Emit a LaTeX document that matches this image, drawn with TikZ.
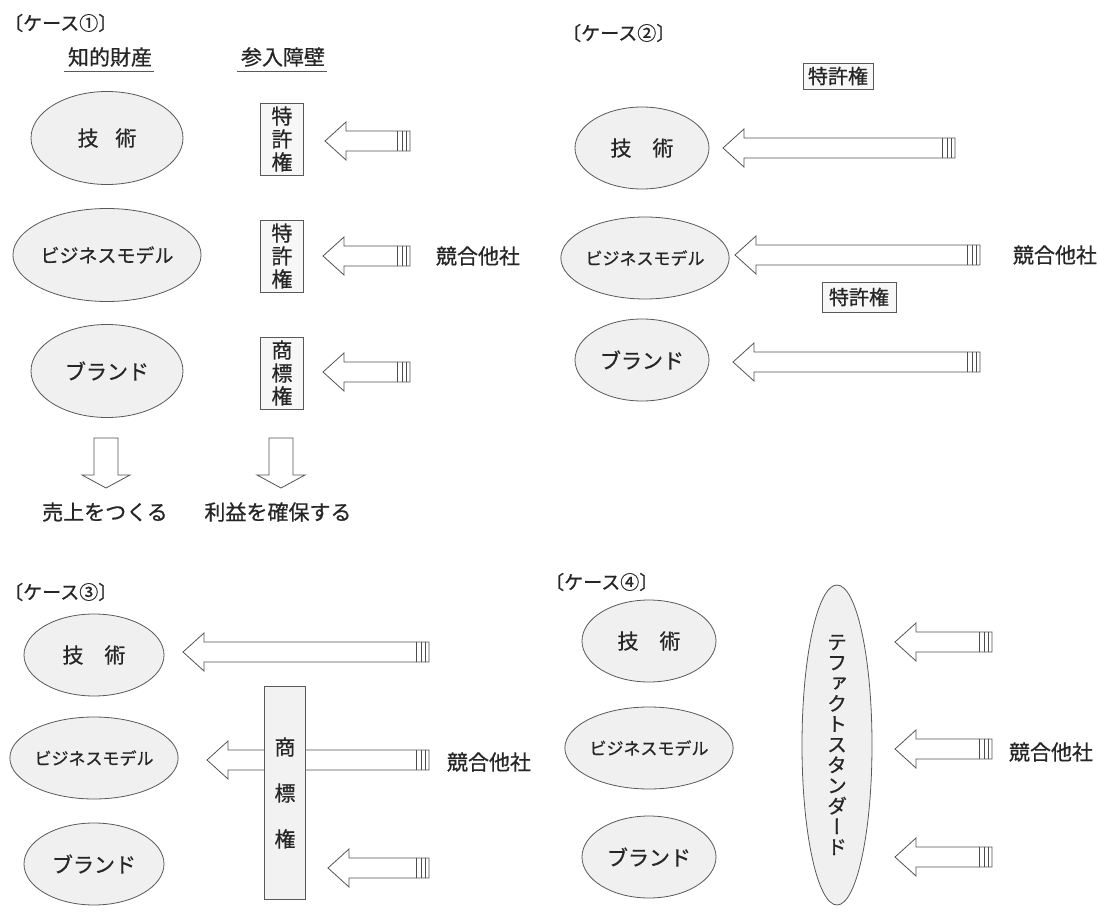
\documentclass[tikz,border=0pt]{standalone}
\usepackage{fontspec}
\setmainfont{Noto Sans CJK JP}[FakeBold=0.7]
\newfontfamily\vertfont[RawFeature=+vert, FakeBold=0.7]{Noto Sans CJK JP}
\usetikzlibrary{shapes.geometric,calc}

\tikzset{
  asset/.style={draw=gray!70!black, line width=0.8pt, fill=gray!12, ellipse, inner sep=0pt, text=black!85},
  ellA/.style={asset, minimum width=152pt, minimum height=93pt},
  ellB/.style={asset, minimum width=134pt, minimum height=82pt},
  barrier/.style={draw=gray!70!black, line width=0.8pt, fill=gray!6, inner sep=0pt, align=center, text=black!85},
  hollow/.style={draw=gray!65!black, line width=0.8pt, fill=white, line join=miter},
  stripe/.style={draw=gray!60!black, line width=0.7pt},
  headline/.style={draw=gray!70!black, line width=0.8pt},
  title/.style={font=\fontsize{19}{22}\selectfont, inner sep=0pt, anchor=west, text=black!85},
  label/.style={font=\fontsize{21}{24}\selectfont, inner sep=0pt, text=black!85},
  big/.style={font=\fontsize{21}{24}\selectfont},
  small/.style={font=\fontsize{17}{20}\selectfont},
}

% hollow block arrow pointing left: #1 tail, #2 tip
\newcommand{\hollowarrow}[2]{%
  \draw[hollow] let \p1=(#1), \p2=(#2) in
    (\p2) -- (\x2+21pt,\y2+19pt) -- (\x2+21pt,\y2+10pt) -- (\x1,\y1+10pt)
    -- (\x1,\y1-10pt) -- (\x2+21pt,\y2-10pt) -- (\x2+21pt,\y2-19pt) -- cycle;
  \draw[stripe] let \p1=(#1) in
    (\x1-4pt,\y1-10pt) -- (\x1-4pt,\y1+10pt)
    (\x1-8pt,\y1-10pt) -- (\x1-8pt,\y1+10pt)
    (\x1-13pt,\y1-10pt) -- (\x1-13pt,\y1+10pt);
}
% hollow block arrow pointing down: #1 top, #2 tip
\newcommand{\hollowdown}[2]{%
  \draw[hollow] let \p1=(#1), \p2=(#2) in
    (\p2) -- (\x2-24pt,\y2+13pt) -- (\x2-12pt,\y2+13pt) -- (\x1-12pt,\y1)
    -- (\x1+12pt,\y1) -- (\x2+12pt,\y2+13pt) -- (\x2+24pt,\y2+13pt) -- cycle;
}

\begin{document}
\begin{tikzpicture}[x=1pt, y=-1pt]
    \fill[white] (0,0) rectangle (1098,912);
    \useasboundingbox (0,0) rectangle (1098,912);

    % Case 1
    \node[title] (t1) at (4,23) {〔ケース①〕};
    \node[label] (ip) at (110,57) {知的財産};
    \node[label] (eb) at (283,57) {参入障壁};
    \draw[headline] ([shift={(-4pt,-4pt)}]ip.south west) -- ([shift={(2pt,-4pt)}]ip.south east);
    \draw[headline] ([shift={(-4pt,-4pt)}]eb.south west) -- ([shift={(2pt,-4pt)}]eb.south east);

    \node[ellA, big] (c1tech) at (107,138) {技\hspace{0.8em}術};
    \node[ellA, font=\fontsize{19}{22}\selectfont] (c1biz) at (107,255) {ビジネスモデル};
    \node[ellA, big] (c1brand) at (107,371) {ブランド};

    \node[barrier, font=\fontsize{21}{23}\selectfont, minimum width=43pt, minimum height=72pt] (c1pat1) at (282,139) {特\\許\\権};
    \node[barrier, font=\fontsize{21}{23}\selectfont, minimum width=43pt, minimum height=72pt] (c1pat2) at (282,256) {特\\許\\権};
    \node[barrier, font=\fontsize{21}{23}\selectfont, minimum width=43pt, minimum height=72pt] (c1tm) at (282,373) {商\\標\\権};

    \coordinate (c1a1t) at (410,141); \coordinate (c1a1h) at (325,141);
    \coordinate (c1a2t) at (410,256); \coordinate (c1a2h) at (323,256);
    \coordinate (c1a3t) at (410,372); \coordinate (c1a3h) at (323,372);
    \hollowarrow{c1a1t}{c1a1h}
    \hollowarrow{c1a2t}{c1a2h}
    \hollowarrow{c1a3t}{c1a3h}
    \node[label] (rival1) at (478,256) {競合他社};

    \coordinate (d1top) at (106,438); \coordinate (d1tip) at (106,488);
    \coordinate (d2top) at (281,438); \coordinate (d2tip) at (281,488);
    \hollowdown{d1top}{d1tip}
    \hollowdown{d2top}{d2tip}
    \node[label] (sales) at (105,512) {売上をつくる};
    \node[label] (profit) at (278,512) {利益を確保する};

    % Case 2
    \node[title] (t2) at (562,33) {〔ケース②〕};
    \node[barrier, font=\fontsize{20}{22}\selectfont, minimum width=70pt, minimum height=26pt] (c2pat1) at (838,76) {特許権};
    \node[ellB, big] (c2tech) at (642,148) {技\hspace{1em}術};
    \node[ellB, small] (c2biz) at (645,258) {ビジネスモデル};
    \node[ellB, big] (c2brand) at (642,360) {ブランド};
    \node[barrier, font=\fontsize{20}{22}\selectfont, minimum width=74pt, minimum height=30pt] (c2pat2) at (859,297) {特許権};

    \coordinate (c2a1t) at (955,148); \coordinate (c2a1h) at (723,148);
    \coordinate (c2a2t) at (980,255); \coordinate (c2a2h) at (735,255);
    \coordinate (c2a3t) at (980,362); \coordinate (c2a3h) at (733,362);
    \hollowarrow{c2a1t}{c2a1h}
    \hollowarrow{c2a2t}{c2a2h}
    \hollowarrow{c2a3t}{c2a3h}
    \node[label] (rival2) at (1055,255) {競合他社};

    % Case 3
    \node[title] (t3) at (4,592) {〔ケース③〕};
    \node[ellB, big, minimum width=140pt] (c3tech) at (94,655) {技\hspace{1em}術};
    \node[ellB, small, minimum width=140pt] (c3biz) at (94,758) {ビジネスモデル};
    \node[ellB, big, minimum width=140pt] (c3brand) at (94,864) {ブランド};

    \coordinate (c3a1t) at (429,652); \coordinate (c3a1h) at (183,652);
    \coordinate (c3a2t) at (429,760); \coordinate (c3a2h) at (207,760);
    \coordinate (c3a3t) at (429,868); \coordinate (c3a3h) at (328,868);
    \hollowarrow{c3a1t}{c3a1h}
    \hollowarrow{c3a2t}{c3a2h}
    \hollowarrow{c3a3t}{c3a3h}
    \node[barrier, fill=gray!10, font=\fontsize{21}{46}\selectfont, minimum width=41pt, minimum height=213pt] (c3tm) at (285,793) {商\\標\\権};
    \node[label] (rival3) at (489,762) {競合他社};

    % Case 4
    \node[title] (t4) at (545,582) {〔ケース④〕};
    \node[ellB, big] (c4tech) at (649,641) {技\hspace{1em}術};
    \node[ellB, small] (c4biz) at (649,748) {ビジネスモデル};
    \node[ellB, big] (c4brand) at (649,857) {ブランド};
    \node[asset, minimum width=70pt, minimum height=320pt, align=center, font=\vertfont\fontsize{20}{20.5}\selectfont] (std) at (837,745)
        {テ\\フ\\ァ\\ク\\ト\\ス\\タ\\ン\\ダ\\ー\\ド};

    \coordinate (c4a1t) at (992,642); \coordinate (c4a1h) at (895,642);
    \coordinate (c4a2t) at (992,749); \coordinate (c4a2h) at (895,749);
    \coordinate (c4a3t) at (992,857); \coordinate (c4a3h) at (895,857);
    \hollowarrow{c4a1t}{c4a1h}
    \hollowarrow{c4a2t}{c4a2h}
    \hollowarrow{c4a3t}{c4a3h}
    \node[label] (rival4) at (1051,752) {競合他社};
\end{tikzpicture}
\end{document}
